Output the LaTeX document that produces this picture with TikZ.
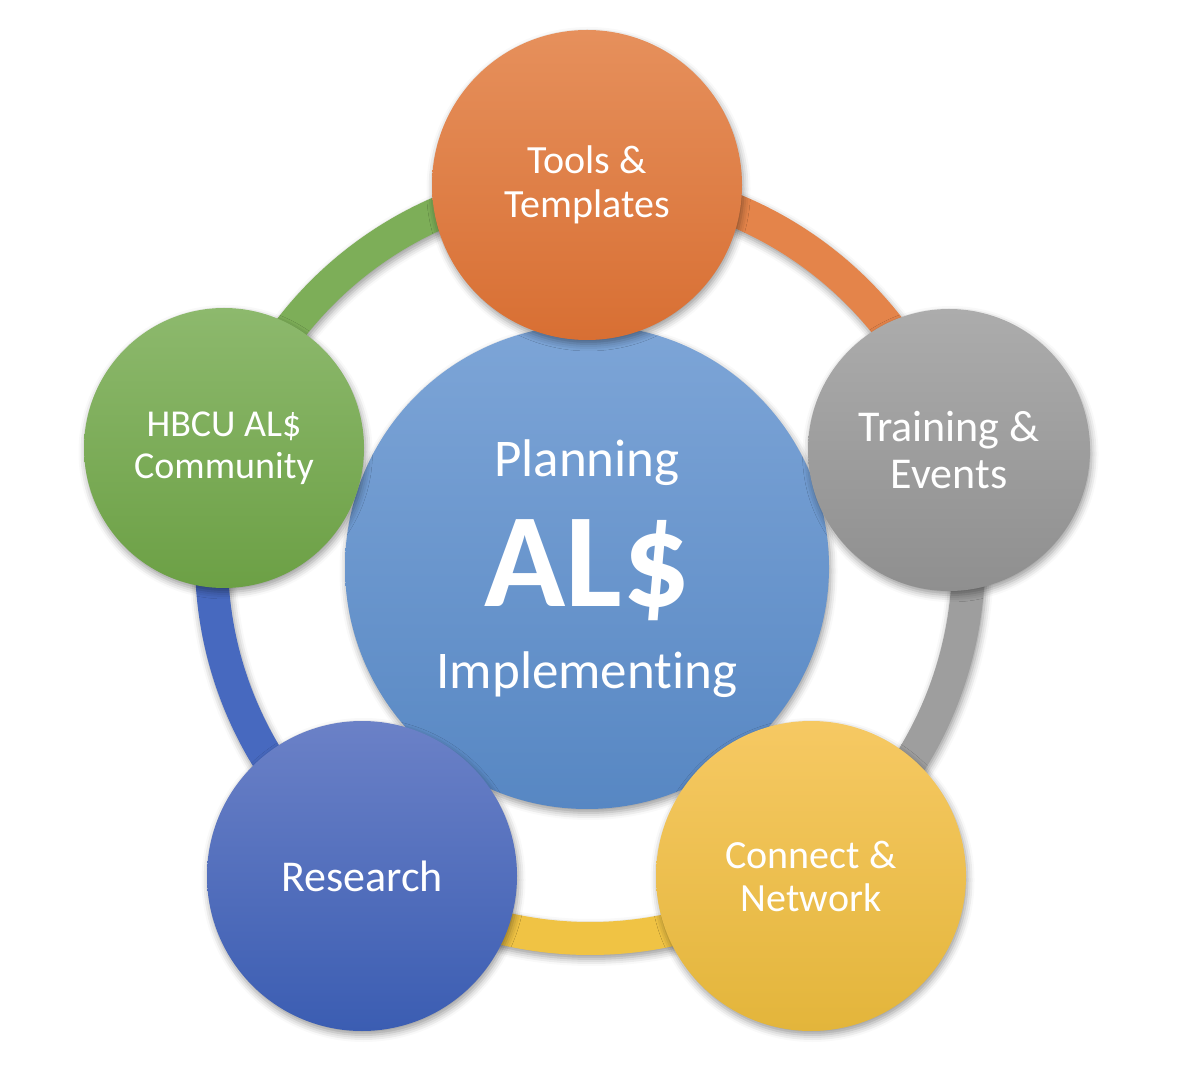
\documentclass[tikz,border=0pt]{standalone}
\usepackage{fontspec}
\setmainfont{Carlito}[Ligatures={NoCommon,NoContextual}]
\usepackage{tikz}
\usepackage{xcolor}
\usetikzlibrary{calc,shadows.blur}
\definecolor{orangetop}{HTML}{E6905C}\definecolor{orangebot}{HTML}{D86F33}
\definecolor{graytop}{HTML}{ACACAC}\definecolor{graybot}{HTML}{8F8F8F}
\definecolor{yellowtop}{HTML}{F6C963}\definecolor{yellowbot}{HTML}{E3B53B}
\definecolor{bluetop}{HTML}{6B81C7}\definecolor{bluebot}{HTML}{3B5DB2}
\definecolor{greentop}{HTML}{8DB96D}\definecolor{greenbot}{HTML}{6CA045}
\definecolor{hubtop}{HTML}{7DA5D7}\definecolor{hubbot}{HTML}{5787C3}
\definecolor{ringorange}{HTML}{E4844A}\definecolor{ringgray}{HTML}{9E9E9E}
\definecolor{ringyellow}{HTML}{F0C344}\definecolor{ringblue}{HTML}{4769BF}
\definecolor{ringgreen}{HTML}{7DAE58}
\tikzset{
  softshadow/.style={blur shadow={shadow xshift=1.5pt,shadow yshift=-4pt,shadow blur radius=7pt,shadow opacity=40}},
  bubble/.style={circle,inner sep=0pt,text=white,align=center,softshadow},
  band/.style={softshadow},
  label/.style={text=white,anchor=base,inner sep=0pt}
}
\begin{document}
\begin{tikzpicture}[x=1pt,y=1pt]
\useasboundingbox (0,0) rectangle (1180,1069);
\coordinate (hub) at (590,509);
\foreach \a/\b/\c in {90/17/ringorange,17/-55/ringgray,-55/-126/ringyellow,-126/-197/ringblue,163/90/ringgreen}
  \path[band,fill=\c] ($(hub)+(\a:395)$) arc[start angle=\a,end angle=\b,radius=395] -- ($(hub)+(\b:362)$) arc[start angle=\b,end angle=\a,radius=362] -- cycle;
\node[bubble,minimum size=484pt,top color=hubtop,bottom color=hubbot] (center) at (587,502) {};
\node[label,font=\fontsize{53}{60}\selectfont] (plan) at (587,592) {Planning};
\node[label,font=\fontsize{134}{140}\selectfont\bfseries] (als) at (587,462) {AL\$};
\node[label,font=\fontsize{53}{60}\selectfont] (impl) at (587,381) {Implementing};
\node[bubble,minimum size=310pt,top color=orangetop,bottom color=orangebot,font=\fontsize{40}{44}\selectfont] (tools) at (587,884) {Tools \&\\Templates};
\node[bubble,minimum size=282pt,top color=graytop,bottom color=graybot,font=\fontsize{44}{47}\selectfont] (training) at (949,619) {Training \&\\Events};
\node[bubble,minimum size=310pt,top color=yellowtop,bottom color=yellowbot,font=\fontsize{40}{43}\selectfont] (connect) at (811,193) {Connect \&\\Network};
\node[bubble,minimum size=310pt,top color=bluetop,bottom color=bluebot,font=\fontsize{44}{47}\selectfont] (research) at (362,193) {Research};
\node[bubble,minimum size=280pt,top color=greentop,bottom color=greenbot,font=\fontsize{38}{42}\selectfont] (hbcu) at (224,621) {HBCU AL\$\\Community};
\end{tikzpicture}
\end{document}
